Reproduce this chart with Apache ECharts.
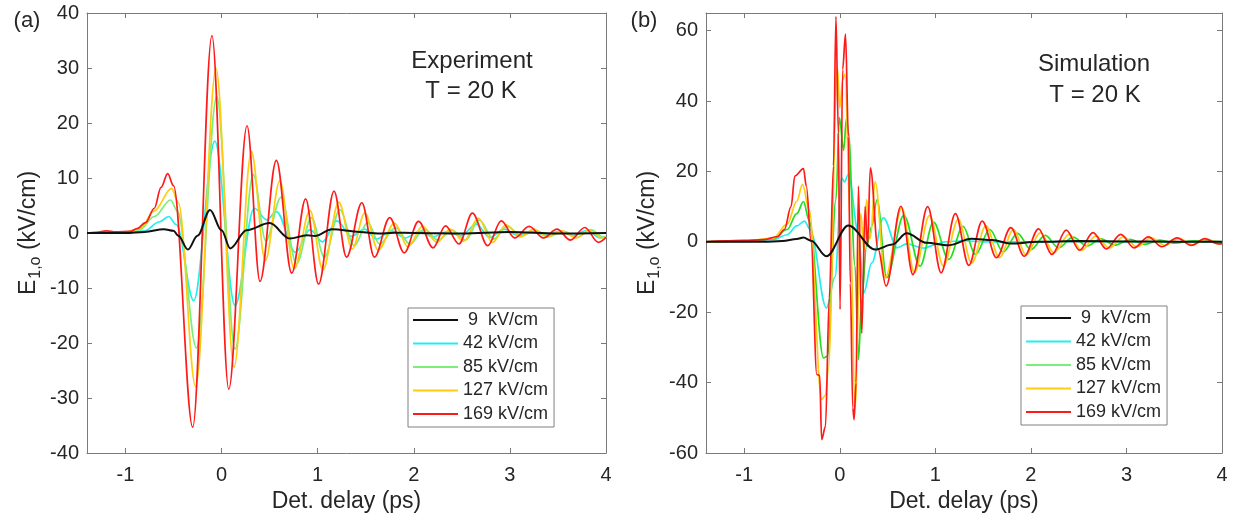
<!DOCTYPE html>
<html>
<head>
<meta charset="utf-8">
<script src="https://cdn.jsdelivr.net/npm/echarts@6/dist/echarts.min.js"></script>
<style>
html,body{margin:0;padding:0;background:#fff;}
#chart{width:1236px;height:519px;}
</style>
</head>
<body>
<div id="chart"></div>
<script>
// ---- Data ----
const seriesNames = [' 9  kV/cm', '42 kV/cm', '85 kV/cm', '127 kV/cm', '169 kV/cm'];
const xTicks = [-1, 0, 1, 2, 3, 4];

// (a) Experiment, [delay ps, E kV/cm]
const exp9 = [[-1.4,0],[-1.0,0],[-0.8,0.2],[-0.6,0.7],[-0.5,0.4],[-0.45,-0.5],[-0.35,-3.0],[-0.25,-0.5],[-0.12,4.2],[0.0,0.5],[0.09,-2.8],[0.26,0.5],[0.5,1.8],[0.71,-1.0],[0.89,-0.4],[0.97,-0.55],[1.15,0.7],[1.44,0.2],[1.63,-0.1],[1.8,0.05],[2.0,0.0],[2.5,-0.1],[3.0,0.2],[3.5,-0.1],[4.0,0.0]];
const exp42 = [[-1.4,0],[-1.0,0.1],[-0.8,0.4],[-0.65,2.0],[-0.55,3.0],[-0.47,1.5],[-0.29,-12.3],[-0.07,16.7],[0.14,-13.2],[0.34,4.5],[0.47,2.4],[0.57,3.9],[0.77,-3.5],[0.92,0.6],[1.05,-1.6],[1.2,2.2],[1.35,-0.6],[1.49,0.7],[1.61,-1.1],[1.77,0.4],[1.91,-0.9],[2.06,0.3],[2.2,-0.7],[2.34,0.2],[2.49,-0.5],[2.65,1.6],[2.79,-0.8],[2.94,0.7],[3.08,-0.4],[3.23,0.3],[3.37,-0.4],[3.52,0.3],[3.66,-0.5],[3.8,0.5],[3.94,-0.9],[4.0,-0.6]];
const exp85 = [[-1.4,0],[-1.0,0.1],[-0.85,0.6],[-0.7,3.0],[-0.53,6.0],[-0.46,4.0],[-0.26,-20.9],[-0.05,24.8],[0.14,-21.1],[0.33,10.6],[0.46,-1.4],[0.62,6.5],[0.78,-5.6],[0.935,2.8],[1.07,-4.4],[1.23,4.2],[1.38,-2.3],[1.52,1.9],[1.645,-2.0],[1.81,1.0],[1.96,-2.0],[2.11,0.7],[2.25,-1.3],[2.40,0.5],[2.54,-1.3],[2.68,2.4],[2.83,-1.1],[2.97,1.2],[3.12,-0.5],[3.27,0.4],[3.41,-0.6],[3.56,0.3],[3.70,-0.8],[3.84,0.6],[3.98,-0.8],[4.0,-0.7]];
const exp127 = [[-1.4,0],[-1.0,0.2],[-0.85,0.8],[-0.7,4.0],[-0.52,8.1],[-0.45,5.5],[-0.27,-27.9],[-0.057,29.9],[0.13,-24.4],[0.31,14.8],[0.455,-5.0],[0.606,9.5],[0.756,-6.5],[0.92,4.1],[1.054,-6.7],[1.22,5.6],[1.36,-2.9],[1.49,3.6],[1.63,-3.1],[1.80,1.8],[1.94,-2.5],[2.09,1.2],[2.24,-1.7],[2.38,0.7],[2.52,-1.5],[2.67,2.7],[2.82,-1.7],[2.96,1.5],[3.11,-0.7],[3.25,0.7],[3.39,-0.7],[3.54,0.4],[3.69,-0.9],[3.82,0.5],[3.96,-0.9],[4.0,-0.7]];
const exp169 = [[-1.4,0],[-1.3,0.1],[-1.2,0.4],[-1.1,0.2],[-0.95,0.3],[-0.88,0.8],[-0.79,1.9],[-0.70,4.5],[-0.63,8.3],[-0.56,10.8],[-0.50,8.6],[-0.30,-35.3],[-0.10,35.9],[0.075,-28.4],[0.265,19.5],[0.40,-8.8],[0.57,13.2],[0.73,-7.3],[0.875,6.2],[1.01,-9.3],[1.17,7.6],[1.30,-4.4],[1.46,5.5],[1.59,-4.4],[1.75,2.8],[1.90,-3.6],[2.05,2.1],[2.20,-2.7],[2.33,1.3],[2.47,-2.0],[2.61,3.6],[2.77,-2.3],[2.91,2.2],[3.05,-0.9],[3.20,1.2],[3.35,-0.9],[3.49,0.7],[3.63,-1.3],[3.78,1.0],[3.92,-1.7],[4.0,-0.8]];

// (b) Simulation, [delay ps, E kV/cm]
const sim9 = [[-1.4,0],[-0.8,0],[-0.6,0.2],[-0.45,0.8],[-0.38,1.2],[-0.3,0.3],[-0.14,-4.1],[0.09,4.6],[0.37,-2.2],[0.55,-0.8],[0.70,2.4],[0.91,-0.3],[1.13,-1.0],[1.38,0.85],[1.6,0.5],[1.78,-0.5],[2.08,0],[2.5,0.2],[3.0,0.1],[3.5,0],[4.0,0]];
const sim42 = [[-1.4,0],[-1.0,0.1],[-0.7,0.6],[-0.55,2.0],[-0.45,4.5],[-0.37,5.9],[-0.31,3.5],[-0.14,-18.8],[-0.05,-10],[0.02,18.2],[0.05,17.0],[0.09,19.2],[0.195,2.6],[0.25,-14.5],[0.335,-6.0],[0.457,6.8],[0.6,-1.7],[0.7,-0.6],[0.88,-1.8],[1.0,-0.8],[1.1,0],[1.3,0.3],[1.5,0],[2,0],[2.5,0.1],[3,0],[4,0]];
const sim85 = [[-1.4,0],[-1.0,0.2],[-0.7,0.8],[-0.55,3.5],[-0.45,8.0],[-0.38,11.4],[-0.32,6.0],[-0.17,-33.0],[-0.13,-32.5],[-0.04,12],[-0.004,35.3],[0.04,26],[0.07,35],[0.09,31],[0.16,-6.9],[0.195,-33.5],[0.23,-16.4],[0.28,-1.2],[0.335,4.4],[0.39,12],[0.49,-10.2],[0.67,7.5],[0.84,-6.9],[0.98,5.6],[1.14,-5.0],[1.29,4.4],[1.42,-3.6],[1.57,3.5],[1.71,-2.9],[1.86,2.4],[2.0,-2.2],[2.15,1.8],[2.29,-1.7],[2.44,1.3],[2.59,-1.2],[2.73,0.85],[2.88,-0.95],[3.04,0.7],[3.19,-0.75],[3.35,0.5],[3.5,-0.4],[3.7,0.3],[4.0,0]];
const sim127 = [[-1.4,0],[-1.0,0.2],[-0.7,1.0],[-0.55,5.0],[-0.45,11.5],[-0.39,16.3],[-0.32,9.0],[-0.19,-44.8],[-0.15,-43.6],[-0.12,-36],[-0.025,49.5],[0.0,38],[0.03,46],[0.055,47.6],[0.11,5],[0.16,-47.2],[0.22,8],[0.255,-3],[0.28,12],[0.32,1],[0.37,17],[0.475,-10.2],[0.65,9.7],[0.78,-8.8],[0.94,7.5],[1.085,-6.9],[1.24,6.4],[1.38,-6.0],[1.53,4.5],[1.67,-4.5],[1.82,3.5],[1.95,-3.8],[2.10,2.6],[2.24,-3.1],[2.40,2.1],[2.53,-2.4],[2.68,1.6],[2.82,-1.7],[2.97,1.4],[3.11,-1.4],[3.26,1.1],[3.40,-1.0],[3.55,0.9],[3.70,-0.8],[3.84,0.7],[3.99,-0.6],[4.0,-0.6]];
const sim169 = [[-1.4,0],[-1.2,0.3],[-1.0,0.4],[-0.8,0.6],[-0.65,1.5],[-0.58,3.5],[-0.51,10],[-0.47,18.7],[-0.38,20.8],[-0.35,15.8],[-0.30,0],[-0.24,-37.7],[-0.21,-38],[-0.19,-56.2],[-0.15,-52.5],[-0.11,-16],[-0.066,21.5],[-0.04,64],[-0.015,31],[0.003,-19.2],[0.03,49],[0.06,59],[0.09,30],[0.11,-11.7],[0.136,-47.2],[0.15,-50.5],[0.17,-40],[0.195,15.8],[0.23,-26],[0.265,10],[0.29,-1.2],[0.32,21],[0.40,-2],[0.485,-12.6],[0.64,10.1],[0.765,-9.3],[0.92,10.0],[1.06,-8.8],[1.21,8.0],[1.35,-6.7],[1.49,5.9],[1.64,-4.5],[1.79,4.0],[1.93,-4.1],[2.08,3.7],[2.22,-3.6],[2.37,3.3],[2.51,-2.4],[2.65,2.6],[2.79,-2.0],[2.94,2.1],[3.08,-1.7],[3.23,1.4],[3.37,-1.4],[3.53,1.1],[3.68,-1.0],[3.82,0.9],[3.96,-0.6],[4.0,-0.5]];

// ---- Styling ----
const FONT = "'Liberation Sans', Arial, Helvetica, sans-serif";
const TXT = '#262626';
const AX = '#7a7a7a';
const colorsA = ['#111111', '#22eeee', '#7aee7a', '#ffcc11', '#ff1a1a'];
const colorsB = ['#111111', '#22eeee', '#22dd22', '#ffcc11', '#ff1a1a'];
const expData = [exp9, exp42, exp85, exp127, exp169];
const simData = [sim9, sim42, sim85, sim127, sim169];

function xAx(gridIndex, main) {
  return {
    type: 'value', gridIndex, min: -1.4, max: 4, minInterval: 1, maxInterval: 1,
    position: main ? 'bottom' : 'top',
    axisLine: {show: true, onZero: false, lineStyle: {color: AX, width: 1}},
    axisTick: {show: true, inside: true, length: 5, lineStyle: {color: AX}},
    splitLine: {show: false},
    axisLabel: main ? {show: true, color: TXT, fontSize: 20, fontFamily: FONT, margin: 12,
      formatter: v => (xTicks.indexOf(Math.round(v*1000)/1000) >= 0 ? String(v) : '')} : {show: false},
    name: main ? 'Det. delay (ps)' : '', nameLocation: 'middle', nameGap: 37,
    nameTextStyle: {color: TXT, fontSize: 23, fontFamily: FONT}
  };
}
function yAx(gridIndex, main, min, max, interval) {
  return {
    type: 'value', gridIndex, min, max, interval,
    position: main ? 'left' : 'right',
    axisLine: {show: true, onZero: false, lineStyle: {color: AX, width: 1}},
    axisTick: {show: true, inside: true, length: 5, lineStyle: {color: AX}},
    splitLine: {show: false},
    axisLabel: main ? {show: true, color: TXT, fontSize: 20, fontFamily: FONT, margin: 8,
      formatter: v => (v % interval === 0 ? String(v) : '')} : {show: false},
    name: main ? 'E{sub|1,o} (kV/cm)' : '', nameLocation: 'middle', nameGap: 43,
    nameTextStyle: {color: TXT, fontSize: 23, fontFamily: FONT,
      rich: {sub: {fontSize: 16, fontFamily: FONT, color: TXT, verticalAlign: 'bottom', padding: [15, 0, 0, 1]}}}
  };
}

const series = [];
function addSeries(dataList, colors, xi, yi) {
  dataList.forEach((d, i) => {
    series.push({
      name: seriesNames[i], type: 'line', data: d, xAxisIndex: xi, yAxisIndex: yi,
      showSymbol: false, symbol: 'none', smooth: 0.35, smoothMonotone: 'x',
      color: colors[i], lineStyle: {color: colors[i], width: i === 0 ? 2 : 1.7},
      z: i === 0 ? 4 : 2 + i * 0.1, silent: true
    });
  });
}
addSeries(expData, colorsA, 0, 0);
addSeries(simData, colorsB, 2, 2);

function legendAt(left, top) {
  return {
    data: seriesNames, orient: 'vertical', left, top,
    icon: 'rect', itemWidth: 45, itemHeight: 2, itemGap: 3.5,
    padding: [2, 6, 3, 5], backgroundColor: '#ffffff',
    borderColor: '#808080', borderWidth: 1, borderRadius: 0,
    textStyle: {color: TXT, fontSize: 18, fontFamily: FONT, lineHeight: 20},
    selectedMode: false
  };
}

function txt(text, x, y, size) {
  return {type: 'text', x, y, silent: true, style: {text, fill: TXT, font: size + 'px ' + FONT,
    fontSize: size, fontFamily: FONT, textAlign: 'center', textVerticalAlign: 'middle', align: 'center', verticalAlign: 'middle'}};
}

const option = {
  animation: false,
  backgroundColor: '#ffffff',
  grid: [
    {left: 87, top: 13, width: 519, height: 440},
    {left: 706, top: 13, width: 516, height: 440}
  ],
  xAxis: [xAx(0, true), xAx(0, false), xAx(1, true), xAx(1, false)],
  yAxis: [yAx(0, true, -40, 40, 10), yAx(0, false, -40, 40, 10), yAx(1, true, -60, 65, 20), yAx(1, false, -60, 65, 20)],
  legend: [legendAt(408, 308), legendAt(1021, 306)],
  series,
  graphic: [
    txt('(a)', 27, 21, 22),
    txt('(b)', 644, 21, 22),
    txt('Experiment', 472, 61, 24),
    txt('T = 20 K', 471, 91, 24),
    txt('Simulation', 1094, 64, 24),
    txt('T = 20 K', 1095, 95, 24)
  ]
};

const chart = echarts.init(document.getElementById('chart'), null, {renderer: 'canvas'});
chart.setOption(option);
</script>
</body>
</html>
